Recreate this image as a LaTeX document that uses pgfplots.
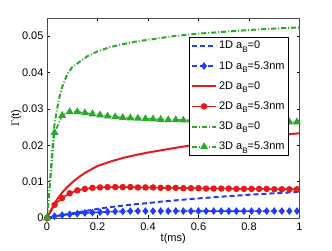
\documentclass[border=0pt]{standalone}
\usepackage{pgfplots}
\pgfplotsset{compat=1.18}
\usepackage{fontspec}
\setmainfont{Liberation Sans}
\definecolor{mblue}{RGB}{30,60,250}
\definecolor{mred}{RGB}{232,25,25}
\definecolor{mgreen}{RGB}{40,170,40}
\newcommand{\sub}[1]{\raisebox{-3.2pt}{\fontsize{8}{9}\selectfont #1}}
\begin{document}
\begin{tikzpicture}[font=\fontsize{11}{13}\selectfont]
\begin{axis}[
  at={(0pt,0pt)}, anchor=south west,
  scale only axis, width=252.5pt, height=200pt,
  xmin=0, xmax=1, ymin=0, ymax=0.055,
  scaled y ticks=false, scaled x ticks=false,
  xtick={0,0.2,0.4,0.6,0.8,1},
  ytick={0,0.01,0.02,0.03,0.04,0.05},
  xticklabels={0,0.2,0.4,0.6,0.8,1},
  yticklabels={0,0.01,0.02,0.03,0.04,0.05},
  tick align=inside, major tick length=3pt,
  tick style={black, line width=0.5pt},
  axis line style={black!70, line width=0.6pt},
  xlabel={t(ms)}, ylabel={$\Gamma$(t)},
  xlabel style={at={(axis description cs:0.5,0)}, anchor=north, yshift=-12pt},
  ylabel style={at={(axis description cs:0,0.5)}, anchor=south, xshift=0pt, yshift=22pt},
  xticklabel style={yshift=-1pt},
  legend style={at={(0.958,0.905)}, anchor=north east, draw=black, line width=0.5pt,
    fill=white, inner sep=2pt, row sep=7pt, font=\fontsize{11}{13}\selectfont,
    cells={anchor=west}},
  legend image code/.code={\draw[mark repeat=2,mark phase=2] plot coordinates {(0pt,0pt) (12pt,0pt) (24pt,0pt)};},
]
\addplot[mblue, line width=2pt, dash pattern=on 5pt off 3pt] coordinates {
(0,0) (0.05,0.0007) (0.1,0.0013) (0.15,0.0019) (0.2,0.0025) (0.25,0.0030) (0.3,0.0034) (0.35,0.0038) (0.4,0.0041) (0.45,0.0045) (0.5,0.0048) (0.6,0.0054) (0.7,0.0059) (0.8,0.0064) (0.9,0.0068) (1,0.0072)};
\addlegendentry{1D a\sub{B}=0}
\addplot[mblue, line width=1.6pt, dash pattern=on 5pt off 3pt, mark=diamond*, mark size=2.6pt, mark options={solid}] coordinates {
(0,0) (0.03,0.0005) (0.06,0.0008) (0.09,0.0010) (0.12,0.0012) (0.15,0.0014) (0.18,0.0015) (0.21,0.0016) (0.24,0.0017) (0.27,0.0018) (0.30,0.0018) (0.33,0.0019) (0.36,0.0019) (0.39,0.0019) (0.42,0.0019) (0.45,0.0019) (0.48,0.0019) (0.51,0.0019) (0.54,0.0019) (0.57,0.0019) (0.60,0.0019) (0.63,0.0019) (0.66,0.0019) (0.69,0.0019) (0.72,0.0019) (0.75,0.0019) (0.78,0.0019) (0.81,0.0019) (0.84,0.0019) (0.87,0.0019) (0.90,0.0019) (0.93,0.0019) (0.96,0.0019) (0.99,0.0019)};
\addlegendentry{1D a\sub{B}=5.3nm}
\addplot[mred, line width=2pt] coordinates {
(0,0) (0.01,0.0014) (0.02,0.0027) (0.03,0.0040) (0.045,0.0056) (0.06,0.0070) (0.08,0.0085) (0.1,0.0098) (0.125,0.0112) (0.15,0.0124) (0.2,0.0143) (0.25,0.0155) (0.3,0.0165) (0.35,0.0173) (0.4,0.0180) (0.5,0.0192) (0.6,0.0203) (0.7,0.0212) (0.8,0.0220) (0.9,0.0227) (1,0.0233)};
\addlegendentry{2D a\sub{B}=0}
\addplot[mred, line width=1.6pt, mark=*, mark size=2.4pt] coordinates {
(0,0) (0.03,0.0036) (0.06,0.0055) (0.09,0.0068) (0.12,0.0076) (0.15,0.0080) (0.18,0.0083) (0.21,0.0084) (0.24,0.0085) (0.27,0.0085) (0.30,0.0085) (0.33,0.0085) (0.36,0.0084) (0.39,0.0084) (0.42,0.0084) (0.45,0.0083) (0.48,0.0083) (0.51,0.0083) (0.54,0.0082) (0.57,0.0082) (0.60,0.0082) (0.63,0.0081) (0.66,0.0081) (0.69,0.0081) (0.72,0.0081) (0.75,0.0080) (0.78,0.0080) (0.81,0.0080) (0.84,0.0080) (0.87,0.0080) (0.90,0.0079) (0.93,0.0079) (0.96,0.0079) (0.99,0.0079)};
\addlegendentry{2D a\sub{B}=5.3nm}
\addplot[mgreen, line width=2pt, dash pattern=on 5pt off 2pt on 1pt off 2pt] coordinates {
(0,0) (0.005,0.0040) (0.01,0.0080) (0.015,0.0130) (0.02,0.0180) (0.025,0.0220) (0.03,0.0260) (0.04,0.0300) (0.05,0.0335) (0.06,0.0360) (0.08,0.0395) (0.1,0.0415) (0.13,0.0430) (0.16,0.0445) (0.2,0.0458) (0.25,0.0470) (0.3,0.0478) (0.35,0.0485) (0.4,0.0490) (0.5,0.0500) (0.6,0.0507) (0.7,0.0512) (0.8,0.0517) (0.9,0.0521) (1,0.0524)};
\addlegendentry{3D a\sub{B}=0}
\addplot[mgreen, line width=1.6pt, dash pattern=on 5pt off 2pt on 1pt off 2pt, mark=triangle*, mark size=3pt, mark options={solid}] coordinates {
(0,0) (0.03,0.0235) (0.06,0.0282) (0.09,0.0292) (0.12,0.0292) (0.15,0.0289) (0.18,0.0286) (0.21,0.0283) (0.24,0.0280) (0.27,0.0278) (0.30,0.0276) (0.33,0.0275) (0.36,0.0274) (0.39,0.0273) (0.42,0.0272) (0.45,0.0271) (0.48,0.0270) (0.51,0.0270) (0.54,0.0269) (0.57,0.0269) (0.60,0.0268) (0.63,0.0268) (0.66,0.0267) (0.69,0.0267) (0.72,0.0267) (0.75,0.0266) (0.78,0.0266) (0.81,0.0266) (0.84,0.0265) (0.87,0.0265) (0.90,0.0265) (0.93,0.0265) (0.96,0.0264) (0.99,0.0264)};
\addlegendentry{3D a\sub{B}=5.3nm}
\end{axis}
\pgfresetboundingbox
\path[use as bounding box] (-47pt,-32pt) rectangle (285pt,218pt);
\end{tikzpicture}
\end{document}
